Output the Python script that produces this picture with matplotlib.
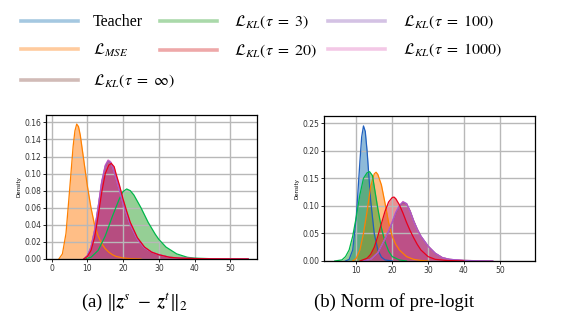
import matplotlib
matplotlib.use("Agg")
import matplotlib.pyplot as plt
from matplotlib.lines import Line2D

plt.rcParams['mathtext.fontset'] = 'stix'

# (a) ||z^s - z^t||_2
xa_mse = [2, 3, 4, 5, 6, 6.5, 7, 7.5, 8, 9, 10, 11, 12, 13, 14, 15, 16, 17, 18, 20, 22, 25]
ya_mse = [0.0, 0.006, 0.03, 0.08, 0.132, 0.15, 0.158, 0.155, 0.145, 0.115, 0.085, 0.06, 0.04, 0.027, 0.018, 0.012, 0.008, 0.005, 0.003, 0.0012, 0.0004, 0.0]

xa_kl3 = [9, 11, 13, 15, 17, 19, 20, 21, 22, 23, 25, 27, 29, 30, 32, 35, 38, 40, 45, 55]
ya_kl3 = [0.0, 0.002, 0.01, 0.027, 0.05, 0.071, 0.079, 0.082, 0.08, 0.075, 0.06, 0.043, 0.029, 0.023, 0.014, 0.006, 0.002, 0.001, 0.0003, 0.0]

xa_kl20 = [9, 10, 11, 12, 13, 14, 15, 16, 16.7, 17.5, 18, 19, 20, 21, 22, 24, 26, 28, 30, 33, 36, 40, 45, 55]
ya_kl20 = [0.0, 0.003, 0.01, 0.025, 0.05, 0.078, 0.1, 0.11, 0.112, 0.108, 0.1, 0.086, 0.07, 0.056, 0.043, 0.025, 0.014, 0.008, 0.005, 0.002, 0.001, 0.0005, 0.0002, 0.0]

xa_kl100 = [9, 10, 11, 12, 13, 14, 15, 15.8, 16.5, 17, 18, 19, 20, 21, 22, 24, 26, 28, 30, 33, 36, 40, 45, 55]
ya_kl100 = [0.0, 0.004, 0.014, 0.033, 0.06, 0.09, 0.109, 0.115, 0.113, 0.108, 0.095, 0.08, 0.065, 0.052, 0.04, 0.023, 0.013, 0.008, 0.005, 0.002, 0.001, 0.0005, 0.0002, 0.0]
ya_kl1000 = [0.0, 0.004, 0.014, 0.034, 0.061, 0.091, 0.11, 0.116, 0.114, 0.108, 0.095, 0.08, 0.065, 0.052, 0.04, 0.023, 0.013, 0.008, 0.005, 0.002, 0.001, 0.0005, 0.0002, 0.0]
ya_klinf = [0.0, 0.004, 0.013, 0.033, 0.06, 0.089, 0.108, 0.115, 0.113, 0.108, 0.096, 0.081, 0.066, 0.052, 0.04, 0.023, 0.013, 0.008, 0.005, 0.002, 0.001, 0.0005, 0.0002, 0.0]

# (b) norm of pre-logit
xb_teacher = [7, 8, 9, 10, 11, 11.5, 12, 12.5, 13, 14, 15, 16, 17, 18, 20]
yb_teacher = [0.0, 0.003, 0.02, 0.08, 0.18, 0.225, 0.245, 0.235, 0.2, 0.11, 0.05, 0.02, 0.007, 0.002, 0.0]

xb_mse = [9, 10, 11, 12, 13, 14, 15, 15.5, 16, 17, 18, 19, 20, 21, 22, 24, 26, 28, 30]
yb_mse = [0.0, 0.005, 0.02, 0.05, 0.09, 0.135, 0.158, 0.161, 0.157, 0.138, 0.105, 0.07, 0.045, 0.03, 0.02, 0.008, 0.003, 0.001, 0.0]

xb_kl3 = [4, 6, 7, 8, 9, 10, 11, 12, 13, 13.7, 14.5, 15, 16, 17, 18, 19, 20, 22, 24]
yb_kl3 = [0.0, 0.002, 0.008, 0.02, 0.045, 0.08, 0.12, 0.15, 0.16, 0.162, 0.155, 0.135, 0.095, 0.06, 0.035, 0.018, 0.008, 0.002, 0.0]

xb_kl20 = [11, 13, 14, 15, 16, 17, 18, 19, 20, 20.5, 21, 22, 23, 24, 25, 26, 27, 28, 30, 32, 35, 40]
yb_kl20 = [0.0, 0.005, 0.012, 0.025, 0.045, 0.068, 0.09, 0.107, 0.115, 0.116, 0.113, 0.102, 0.087, 0.07, 0.055, 0.042, 0.03, 0.02, 0.008, 0.003, 0.001, 0.0]

xb_kl100 = [12, 14, 16, 18, 19, 20, 21, 22, 23, 24, 25, 26, 27, 28, 30, 32, 34, 36, 40, 45, 48]
yb_kl100 = [0.0, 0.003, 0.015, 0.04, 0.055, 0.07, 0.088, 0.1, 0.107, 0.104, 0.09, 0.072, 0.057, 0.045, 0.027, 0.014, 0.006, 0.003, 0.001, 0.0003, 0.0]
yb_kl1000 = [0.0, 0.003, 0.015, 0.04, 0.055, 0.071, 0.089, 0.101, 0.108, 0.104, 0.09, 0.072, 0.057, 0.045, 0.027, 0.014, 0.006, 0.003, 0.001, 0.0003, 0.0]
yb_klinf = [0.0, 0.003, 0.014, 0.039, 0.054, 0.07, 0.087, 0.1, 0.106, 0.104, 0.091, 0.073, 0.058, 0.045, 0.027, 0.014, 0.006, 0.003, 0.001, 0.0003, 0.0]

labels = ['Teacher', r'$\mathcal{L}_{MSE}$', r'$\mathcal{L}_{KL}(\tau\ =\ 3)$', r'$\mathcal{L}_{KL}(\tau\ =\ 20)$',
          r'$\mathcal{L}_{KL}(\tau\ =\ 100)$', r'$\mathcal{L}_{KL}(\tau\ =\ 1000)$', r'$\mathcal{L}_{KL}(\tau\ =\ \infty)$']
legend_colors = ['tab:blue', 'tab:orange', 'tab:green', 'tab:red', 'tab:purple', 'tab:pink', 'tab:brown']
fills = ['tab:blue', 'tab:orange', 'tab:green', 'tab:red', 'tab:purple', '#d63a96', 'tab:brown']
lines = ['#1f5fbf', '#ff8000', '#00b84a', '#e8001c', '#a855c8', '#e377c2', '#8c564b']

fig = plt.figure(figsize=(5.64, 3.33), dpi=100)
ax1 = fig.add_axes([46 / 564, 1 - 259 / 333, 211 / 564, 144 / 333])
ax2 = fig.add_axes([324 / 564, 1 - 261 / 333, 211 / 564, 145 / 333])

series_a = [None, (xa_mse, ya_mse), (xa_kl3, ya_kl3), (xa_kl20, ya_kl20),
            (xa_kl100, ya_kl100), (xa_kl100, ya_kl1000), (xa_kl100, ya_klinf)]
series_b = [(xb_teacher, yb_teacher), (xb_mse, yb_mse), (xb_kl3, yb_kl3), (xb_kl20, yb_kl20),
            (xb_kl100, yb_kl100), (xb_kl100, yb_kl1000), (xb_kl100, yb_klinf)]

# brown under purple and pink so the overlap reads magenta
draw_order = [0, 1, 2, 3, 4, 6, 5]
for ax, series in [(ax1, series_a), (ax2, series_b)]:
    for i in draw_order:
        s = series[i]
        if s is None:
            continue
        ax.fill_between(s[0], 0, s[1], color=fills[i], alpha=0.5, linewidth=0)
    for i in [0, 1, 2, 6, 5, 4, 3]:
        s = series[i]
        if s is None:
            continue
        ax.plot(s[0], s[1], color=lines[i], linewidth=0.9)
    ax.grid(True, color='#b8b8b8', linewidth=1.0)
    ax.set_ylabel('Density', fontsize=4, labelpad=2)
    ax.tick_params(labelsize=5.5, length=2, width=0.6, pad=1.5, labelcolor='#333333')
    for sp in ax.spines.values():
        sp.set_linewidth(0.9)

ax1.set_xlim(-1.6, 57.5)
ax1.set_ylim(0, 0.1686)
ax1.set_xticks([0, 10, 20, 30, 40, 50])
ax1.set_yticks([0, 0.02, 0.04, 0.06, 0.08, 0.10, 0.12, 0.14, 0.16])
ax1.set_yticklabels(['0.00', '0.02', '0.04', '0.06', '0.08', '0.10', '0.12', '0.14', '0.16'])

ax2.set_xlim(1.0, 59.8)
ax2.set_ylim(0, 0.263)
ax2.set_xticks([10, 20, 30, 40, 50])
ax2.set_yticks([0, 0.05, 0.10, 0.15, 0.20, 0.25])
ax2.set_yticklabels(['0.00', '0.05', '0.10', '0.15', '0.20', '0.25'])

# legend laid out by hand: (handle x0, x1, text x, y) in pixels
legend_pos = {0: (21, 78, 93, 21), 1: (21, 78, 93, 49), 6: (21, 78, 93, 80),
              2: (160, 217, 234, 21), 3: (160, 217, 234, 50),
              4: (328, 385, 403, 21), 5: (328, 385, 403, 49)}
W, H = 564, 333
for i, (x0, x1, tx, y) in legend_pos.items():
    fig.add_artist(Line2D([x0 / W, x1 / W], [1 - y / H, 1 - y / H], color=legend_colors[i],
                          alpha=0.4, linewidth=2.6, transform=fig.transFigure))
    fig.text(tx / W, 1 - (y + 1) / H, labels[i], ha='left', va='center',
             family='Liberation Serif', fontsize=11.5)

fig.text(134 / W, 1 - 302 / H, r'(a) $\Vert\boldsymbol{z}^s\ -\ \boldsymbol{z}^t\Vert_2$',
         ha='center', va='center', family='Liberation Serif', fontsize=13.5)
fig.text(394 / W, 1 - 302 / H, '(b) Norm of pre-logit',
         ha='center', va='center', family='Liberation Serif', fontsize=13.5)

fig.savefig('out.png', dpi=100)
